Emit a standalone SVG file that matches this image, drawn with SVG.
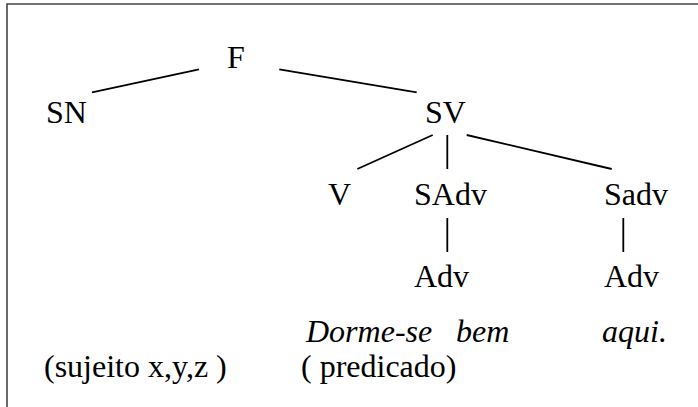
<svg xmlns="http://www.w3.org/2000/svg" width="698" height="407" viewBox="0 0 698 407">
<style>
text{font-family:"Liberation Serif","Times New Roman",serif;font-size:32px;fill:#000}
.it{font-style:italic}
.edge{stroke:#000;stroke-width:1.8;fill:none}
.frame{stroke:#444;stroke-width:1.6;fill:none}
</style>
<rect width="698" height="407" fill="#fff"/>
<path class="frame" d="M7,407 V4 H698"/>
<g id="connectors">
<line class="edge" x1="92" y1="92.3" x2="199" y2="69.3"/>
<line class="edge" x1="279.3" y1="69.3" x2="416.7" y2="92.3"/>
<line class="edge" x1="432.7" y1="135" x2="357.3" y2="169"/>
<line class="edge" x1="447.3" y1="135" x2="447.3" y2="169"/>
<line class="edge" x1="466.7" y1="135" x2="611.7" y2="169"/>
<line class="edge" x1="447.3" y1="218" x2="447.3" y2="252"/>
<line class="edge" x1="623.3" y1="218" x2="623.3" y2="252"/>
</g>
<g id="node-F"><text x="227" y="68">F</text></g>
<g id="node-SN"><text x="46" y="123">SN</text></g>
<g id="node-SV"><text x="425" y="123">SV</text></g>
<g id="node-V"><text x="328" y="205">V</text></g>
<g id="node-SAdv"><text x="414" y="205">SAdv</text></g>
<g id="node-Sadv"><text x="604" y="205">Sadv</text></g>
<g id="node-Adv1"><text x="414" y="287">Adv</text></g>
<g id="node-Adv2"><text x="604" y="287">Adv</text></g>
<g id="sentence"><text class="it" y="342"><tspan x="306">Dorme-se</tspan><tspan x="456">bem</tspan><tspan x="602">aqui.</tspan></text></g>
<g id="label-sujeito"><text x="44" y="377">(sujeito x,y,z )</text></g>
<g id="label-predicado"><text x="301" y="377">( predicado)</text></g>
</svg>
